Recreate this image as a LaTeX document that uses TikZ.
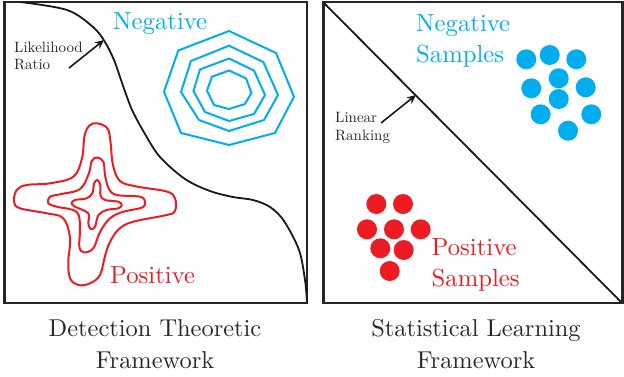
\documentclass[tikz,border=0pt]{standalone}
\usepackage{graphicx}
\usetikzlibrary{arrows.meta}
\definecolor{negblue}{RGB}{0,174,239}
\definecolor{posred}{RGB}{237,28,36}
\definecolor{txtgray}{RGB}{40,40,40}
\newcommand{\bigsc}[1]{\scalebox{2.47}{#1}}
\newcommand{\smallsc}[1]{\scalebox{1.5}{#1}}
\newcommand{\capsc}[1]{\scalebox{2.44}{#1}}
\begin{document}
\begin{tikzpicture}[x=1pt,y=-1pt,
  frame/.style={draw=black!85,line width=2.4pt},
  bound/.style={draw=black!90,line width=1.8pt},
  negline/.style={draw=negblue,line width=2pt},
  posline/.style={draw=posred,line width=2pt},
  bigtxt/.style={inner sep=0pt,anchor=base west,font=\fontsize{10}{12}\selectfont},
  smalltxt/.style={inner sep=0pt,anchor=base west,text=txtgray,font=\fontsize{10}{12}\selectfont},
  captxt/.style={inner sep=0pt,anchor=base,text=txtgray,font=\fontsize{10}{12}\selectfont},
  pointer/.style={draw=black!90,line width=1.6pt,-{Stealth[length=9pt,width=8pt]}},
  negdot/.style={circle,fill=negblue,minimum size=20pt,inner sep=0pt},
  posdot/.style={circle,fill=posred,minimum size=20pt,inner sep=0pt}]
\useasboundingbox (0,0) rectangle (624,376);
% frames
\draw[frame] (4.5,2) rectangle (307,303);
\draw[frame] (323.5,2) rectangle (622.5,303);
% ===== left panel =====
\draw[bound] plot[smooth,tension=0.55] coordinates {(20,2) (67,10) (93,27) (105,42) (114,60) (120,77) (127,97) (133,112) (145,134) (160,157) (185,179) (210,191) (233,197) (253,200) (270,207) (284,221) (299,250) (305,280) (307,302)};
% octagons
\draw[negline] (229,31) -- (276,53) -- (294,96.7) -- (275,133) -- (229,145) -- (181,133) -- (164,91.7) -- (178.3,50.5) -- cycle;
\draw[negline] (229,45.7) -- (263.3,62) -- (278,95) -- (264,120) -- (229,131) -- (199,120) -- (181,92) -- (191,61) -- cycle;
\draw[negline] (229,58.5) -- (254,70.5) -- (265,95) -- (254,114) -- (229,121) -- (205,112) -- (193.5,91) -- (200,69.5) -- cycle;
\draw[negline] (229,70.5) -- (246,78.3) -- (251.5,93) -- (245,104) -- (229,109) -- (214,105) -- (207,90.5) -- (212,76.7) -- cycle;
% stars
\draw[posline] plot[smooth cycle,tension=0.6] coordinates {(97.3,123.3) (107.5,128.5) (110.5,142) (113,165) (120,181) (136.7,186.5) (166.7,191.5) (175,198.3) (175,211) (166.7,215) (133.3,221.7) (119,229) (110,242) (105,256) (100,275) (90,283.3) (78.3,285) (70,278.3) (68.3,261.7) (70,238.3) (63.3,218.3) (46.7,213.3) (20,208.3) (14,201.7) (16.7,190) (26.7,185) (50,183.3) (73.3,176.7) (82,158.3) (84.5,136) (89.5,125.5)};
\draw[posline] plot[smooth cycle,tension=0.6] coordinates {(97.3,157.5) (103.5,162) (105,175) (109,189) (117,195) (140,196.7) (145,202) (141.7,207.7) (123.3,211.7) (110,218.3) (100,232) (93.3,248.3) (84,252.3) (79.3,246.7) (80,228.3) (76.7,212) (56.7,206.7) (48.3,203.3) (50,196.7) (60,194.3) (80,189) (89,173) (91.7,161)};
\draw[posline] plot[smooth cycle,tension=0.6] coordinates {(97.3,180) (100.3,185) (100.5,195) (105,200) (118.3,201.7) (121.7,205) (118.3,208.3) (106.7,210) (98.5,215) (95,226.7) (90.7,229) (88.3,223.3) (88.3,213.3) (75,206.7) (71.7,203.3) (75,200) (86.7,198.3) (92.5,193) (94,183.5)};
% labels
\node[bigtxt,text=negblue] (negL) at (113,29.5) {\bigsc{Negative}};
\node[bigtxt,text=posred] (posL) at (110,283) {\bigsc{Positive}};
\node[smalltxt] (lr1) at (14,52) {\smallsc{Likelihood}};
\node[smalltxt] (lr2) at (14,69) {\smallsc{Ratio}};
\coordinate (lrfrom) at (69,68);
\coordinate (lrto) at (104,40);
\draw[pointer] (lrfrom) -- (lrto);
% ===== right panel =====
\coordinate (diagA) at (324,3);
\coordinate (diagB) at (621,302);
\draw[bound] (diagA) -- (diagB);
\node[bigtxt,text=negblue] (negR1) at (416,31) {\bigsc{Negative}};
\node[bigtxt,text=negblue] (negR2) at (416,62) {\bigsc{Samples}};
\node[bigtxt,text=posred] (posR1) at (431.5,255.5) {\bigsc{Positive}};
\node[bigtxt,text=posred] (posR2) at (431.5,286) {\bigsc{Samples}};
\node[smalltxt] (lin1) at (335,122) {\smallsc{Linear}};
\node[smalltxt] (lin2) at (335,140) {\smallsc{Ranking}};
\coordinate (linfrom) at (381,123);
\coordinate (linto) at (416,95);
\draw[pointer] (linfrom) -- (linto);
% dots
\foreach \i/\x/\y in {1/526.3/59.3, 2/549.7/55, 3/576.3/59.3, 4/531.3/88.3, 5/558.7/78.3, 6/585.7/87.3, 7/558.7/99, 8/540.7/114.3, 9/591.3/114.3, 10/568/130.7}
  \node[negdot] (nd\i) at (\x,\y) {};
\foreach \i/\x/\y in {1/376.3/204, 2/403/204, 3/367/229.3, 4/394/229.3, 5/420.7/229.3, 6/380.3/248.3, 7/403.7/250, 8/389.7/271}
  \node[posdot] (pd\i) at (\x,\y) {};
% captions
\node[captxt] (capL1) at (155,336) {\capsc{Detection Theoretic}};
\node[captxt] (capL2) at (155,368.5) {\capsc{Framework}};
\node[captxt] (capR1) at (476,336) {\capsc{Statistical Learning}};
\node[captxt] (capR2) at (476,368.5) {\capsc{Framework}};
\end{tikzpicture}
\end{document}
